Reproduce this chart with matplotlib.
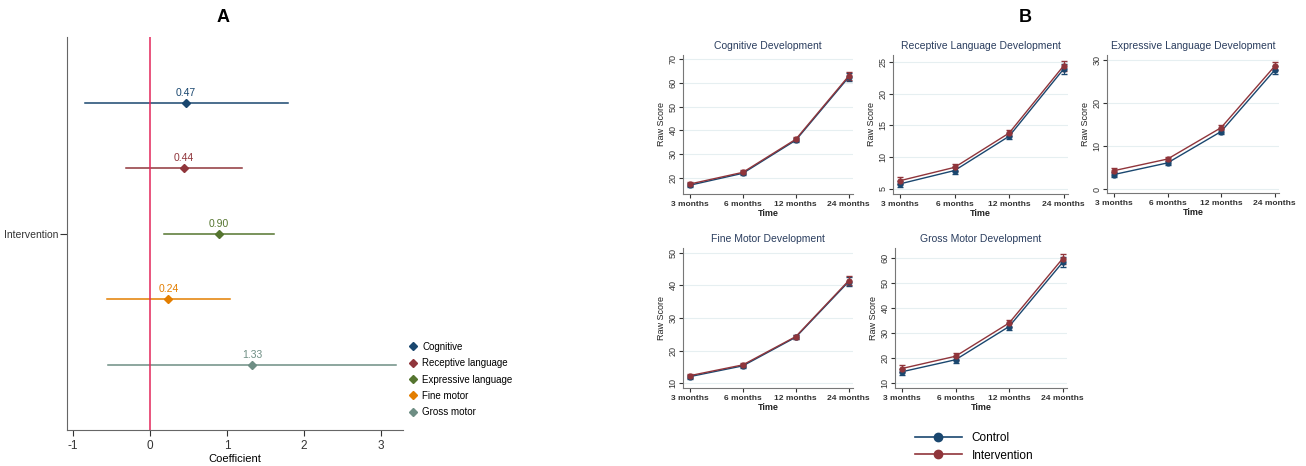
import numpy as np
import matplotlib
matplotlib.use("Agg")
import matplotlib.pyplot as plt
from matplotlib.lines import Line2D

plt.rcParams["font.family"] = ["Liberation Sans", "DejaVu Sans"]
plt.rcParams["axes.unicode_minus"] = False

# ---- panel A data: coefficients with 95% CI
outcomes = ["Cognitive", "Receptive language", "Expressive language", "Fine motor", "Gross motor"]
coef = [0.47, 0.44, 0.90, 0.24, 1.33]
ci_low = [-0.85, -0.31, 0.18, -0.56, -0.55]
ci_high = [1.79, 1.20, 1.61, 1.04, 3.20]
colorsA = ["#1a476f", "#90353b", "#55752f", "#e37e00", "#6e8e84"]

# ---- panel B data: raw scores by time
times = ["3 months", "6 months", "12 months", "24 months"]
titles = ["Cognitive Development", "Receptive Language Development",
          "Expressive Language Development", "Fine Motor Development",
          "Gross Motor Development"]
control = [
    [17.0, 22.0, 35.9, 62.4],
    [5.8, 7.9, 13.3, 23.9],
    [3.4, 6.1, 13.4, 27.7],
    [12.0, 15.3, 24.1, 41.2],
    [14.5, 19.3, 32.6, 58.3],
]
intervention = [
    [17.5, 22.4, 36.3, 62.9],
    [6.3, 8.4, 13.8, 24.4],
    [4.3, 7.0, 14.3, 28.6],
    [12.3, 15.6, 24.3, 41.5],
    [15.8, 20.7, 34.0, 59.8],
]
halfwidth = [
    [0.8, 0.8, 0.9, 1.6],
    [0.5, 0.5, 0.5, 0.8],
    [0.5, 0.5, 0.6, 0.9],
    [0.6, 0.6, 0.6, 1.4],
    [1.3, 1.3, 1.4, 2.0],
]
ylims = [(13.3, 71.7), (4.2, 26.1), (-0.9, 31.2), (8.5, 51.5), (8.0, 64.0)]
yticks = [np.arange(20, 71, 10), np.arange(5, 26, 5), np.arange(0, 31, 10),
          np.arange(10, 51, 10), np.arange(10, 61, 10)]

W, H = 1306, 466
fig = plt.figure(figsize=(W / 100, H / 100), dpi=100)


def rect(x0, y0, x1, y1):
    return [x0 / W, 1 - y1 / H, (x1 - x0) / W, (y1 - y0) / H]


# ================= Panel A
ax = fig.add_axes(rect(67, 37, 403, 430))
rows = np.arange(1, len(outcomes) + 1)
for i in range(len(outcomes)):
    ax.plot([ci_low[i], ci_high[i]], [rows[i], rows[i]], color=colorsA[i], lw=1.1)
    ax.plot(coef[i], rows[i], marker="D", ms=4.5, color=colorsA[i], ls="none")
    ax.text(coef[i], rows[i] - 0.07, "%.2f" % coef[i], color=colorsA[i],
            ha="center", va="bottom", fontsize=7.5)
ax.axvline(0, color="#e3265a", lw=1.1)
ax.set_ylim(6, 0)
ax.set_xlim(-1.08, 3.29)
ax.set_yticks([3])
ax.set_yticklabels(["Intervention"], fontsize=7.5)
ax.set_xticks([-1, 0, 1, 2, 3])
ax.tick_params(axis="x", labelsize=8.5, colors="#333333", length=4)
ax.tick_params(axis="y", colors="#333333", length=5, pad=1)
ax.set_xlabel("Coefficient", fontsize=8, labelpad=1)
for s in ["top", "right"]:
    ax.spines[s].set_visible(False)
for s in ["left", "bottom"]:
    ax.spines[s].set_color("#666666")
fig.text(223 / W, 1 - 18 / H, "A", fontsize=13, fontweight="bold", ha="center", va="center")

handlesA = [Line2D([], [], marker="D", ls="none", color=c, ms=4.5) for c in colorsA]
fig.legend(handlesA, outcomes, loc="upper left", bbox_to_anchor=(404 / W, 1 - 338 / H),
           frameon=False, fontsize=7, handlelength=1, handletextpad=0.5,
           labelspacing=0.65, borderaxespad=0)

# ================= Panel B
boxes = [(683, 55, 853, 194), (893, 55, 1068, 194), (1107, 55, 1279, 193),
         (683, 248, 853, 388), (895, 248, 1067, 388)]
c_col = "#1a476f"
i_col = "#90353b"
title_col = "#2a3d5e"
x = np.arange(len(times))
for k in range(5):
    b = fig.add_axes(rect(*boxes[k]))
    for yv in yticks[k]:
        b.axhline(yv, color="#e6eff1", lw=0.8, zorder=0)
    b.errorbar(x, control[k], yerr=halfwidth[k], color=c_col, marker="o", ms=3.5,
               lw=1, elinewidth=0.8, capsize=2)
    b.errorbar(x, intervention[k], yerr=halfwidth[k], color=i_col, marker="o", ms=3.5,
               lw=1, elinewidth=0.8, capsize=2)
    b.set_xlim(-0.13, 3.08)
    b.set_ylim(*ylims[k])
    b.set_yticks(yticks[k])
    b.set_xticks(x)
    b.set_xticklabels(times, fontsize=6, fontweight="bold")
    b.tick_params(axis="y", labelsize=6.5, length=3, pad=1, colors="#333333")
    b.tick_params(axis="x", length=3, pad=2, colors="#333333")
    for lab in b.get_yticklabels():
        lab.set_rotation(90)
        lab.set_va("center")
    b.set_ylabel("Raw Score", fontsize=6.5, labelpad=2, color="#222222")
    b.set_xlabel("Time", fontsize=6.5, labelpad=1, fontweight="bold", color="#222222")
    b.set_title(titles[k], fontsize=7.5, color=title_col, pad=4)
    for s in ["top", "right"]:
        b.spines[s].set_visible(False)
    for s in ["left", "bottom"]:
        b.spines[s].set_color("#777777")
        b.spines[s].set_linewidth(0.8)

fig.text(1025 / W, 1 - 18 / H, "B", fontsize=13, fontweight="bold", ha="center", va="center")

handlesB = [Line2D([], [], color=c_col, marker="o", ms=6, lw=1.2),
            Line2D([], [], color=i_col, marker="o", ms=6, lw=1.2)]
fig.legend(handlesB, ["Control", "Intervention"], loc="upper left",
           bbox_to_anchor=(910 / W, 1 - 427 / H), frameon=False, fontsize=8.5,
           handlelength=4.0, handletextpad=0.8, labelspacing=0.5, borderaxespad=0)

fig.savefig("out.png", dpi=100)
